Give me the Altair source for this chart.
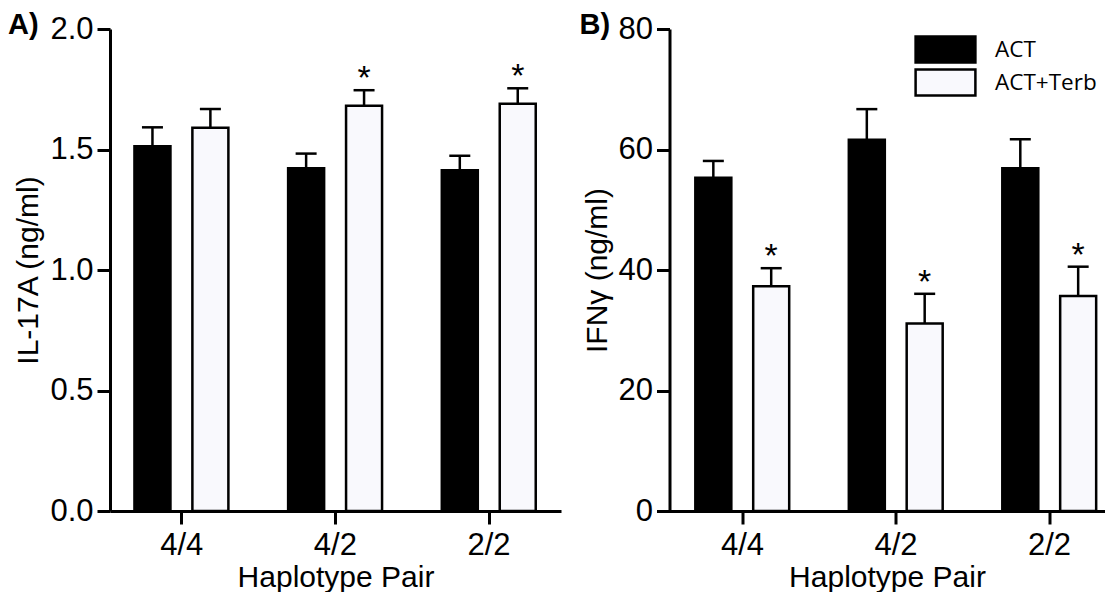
import altair as alt
import pandas as pd

groups = ["4/4", "4/2", "2/2"]
treatments = ["ACT", "ACT+Terb"]

il17_act = [1.514, 1.422, 1.414]
il17_act_sem = [0.078, 0.061, 0.060]
il17_terb = [1.590, 1.682, 1.690]
il17_terb_sem = [0.078, 0.064, 0.064]
il17_sig_act = [False, False, False]
il17_sig_terb = [False, True, True]

ifng_act = [55.3, 61.6, 56.9]
ifng_act_sem = [2.8, 5.1, 4.8]
ifng_terb = [37.3, 31.1, 35.7]
ifng_terb_sem = [3.0, 4.95, 4.85]
ifng_sig_act = [False, False, False]
ifng_sig_terb = [True, True, True]


def make_df(act, act_sem, terb, terb_sem, sig_act, sig_terb):
    rows = []
    for i, g in enumerate(groups):
        for t, m, s, sg in [
            ("ACT", act[i], act_sem[i], sig_act[i]),
            ("ACT+Terb", terb[i], terb_sem[i], sig_terb[i]),
        ]:
            rows.append({"gi": i + 1, "group": g, "treat": t, "mean": m,
                         "sem": s, "top": m + s, "sig": sg,
                         "star": "*" if sg else ""})
    return pd.DataFrame(rows)


label_expr = " : ".join(
    [f"datum.value == {i + 1} ? '{g}'" for i, g in enumerate(groups)]
) + " : ''"


def panel(df, ydomain, yticks, yfmt, ytitle, xdomain, width, letter, letter_x, legend):
    base = alt.Chart(df).transform_calculate(
        xpos="datum.gi + (datum.treat == 'ACT' ? -0.187 : 0.19)"
    )
    xscale = alt.Scale(domain=xdomain, nice=False, zero=False)
    xaxis = alt.Axis(values=[1, 2, 3], labelExpr=label_expr,
                     title="Haplotype Pair", labelFlush=False)
    yscale = alt.Scale(domain=ydomain, nice=False)
    yaxis = alt.Axis(values=yticks, format=yfmt, title=ytitle, labelFlush=False)

    def X():
        return alt.X("xpos:Q", scale=xscale, axis=xaxis)

    def Y(f):
        return alt.Y(f, scale=yscale, axis=yaxis)

    bars = base.mark_bar(width=36, stroke="black", strokeWidth=2.5).encode(
        x=X(), y=Y("mean:Q"),
        fill=alt.Fill("treat:N",
                      scale=alt.Scale(domain=treatments,
                                      range=["#000000", "#f9f9fd"]),
                      legend=legend),
    )
    err = base.mark_rule(strokeWidth=2.5, color="black").encode(
        x=X(), y=Y("mean:Q"), y2="top:Q")
    cap = base.mark_rule(strokeWidth=2.5, color="black",
                         xOffset=-10.5, x2Offset=10.5).encode(
        x=X(), x2="xpos:Q", y=Y("top:Q"))
    stars = base.transform_filter("datum.sig").mark_text(
        fontSize=34, font="Liberation Sans", baseline="alphabetic",
        dy=-1, color="black").encode(x=X(), y=Y("top:Q"), text="star:N")
    let = alt.Chart(pd.DataFrame({"t": [letter]})).mark_text(
        fontSize=29, fontWeight="bold", font="Liberation Sans",
        align="left", baseline="alphabetic", color="black").encode(
        text="t:N", x=alt.value(letter_x), y=alt.value(5))
    return alt.layer(bars, err, cap, stars, let).properties(
        width=width, height=482)


dfa = make_df(il17_act, il17_act_sem, il17_terb, il17_terb_sem,
              il17_sig_act, il17_sig_terb)
dfb = make_df(ifng_act, ifng_act_sem, ifng_terb, ifng_terb_sem,
              ifng_sig_act, ifng_sig_terb)

legend_b = alt.Legend(
    orient="none", legendX=261.5, legendY=6, title=None,
    symbolType="M-2.3,-1H2.3V1H-2.3Z", symbolSize=676,
    symbolStrokeColor="black", symbolStrokeWidth=2.5, symbolOpacity=1,
    labelFont="Open Sans", labelFontSize=22.5, labelColor="black",
    labelOffset=35, rowPadding=-4, padding=0,
)

pa = panel(dfa, [0, 2], [0, 0.5, 1.0, 1.5, 2.0], ".1f", "IL-17A (ng/ml)",
           [0.5693, 3.439], 451, "A)", -102, None)
pb = panel(dfb, [0, 80], [0, 20, 40, 60, 80], "d", "IFNγ (ng/ml)",
           [0.560, 3.329], 435, "B)", -90, legend_b)

chart = alt.hconcat(pa, pb, spacing=18.5).resolve_scale(
    fill="independent", x="independent", y="independent"
).resolve_legend(fill="independent").properties(
    padding={"left": 0, "top": 3, "right": 0, "bottom": 0}
).configure_axis(
    domainColor="black", domainWidth=3, tickColor="black", tickWidth=3,
    tickSize=13, labelFont="Liberation Sans", labelFontSize=31,
    labelColor="black", titleFont="Liberation Sans", titleFontSize=30,
    titleFontWeight="normal", titleColor="black", grid=False, labelPadding=4,
).configure_axisX(labelPadding=6, titlePadding=2).configure_axisY(
    titlePadding=6
).configure_view(stroke=None)

chart.save("out.html", embed_options={"renderer": "svg", "actions": False})
